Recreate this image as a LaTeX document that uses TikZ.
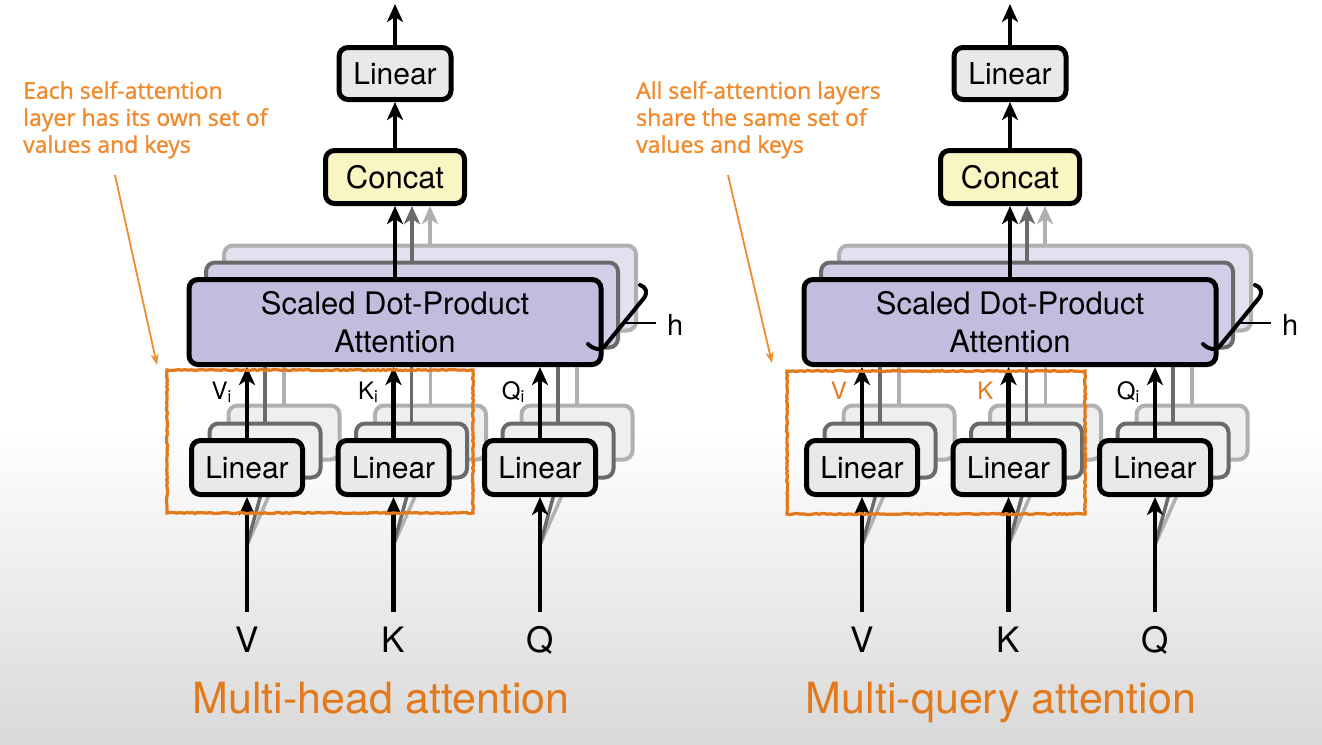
\documentclass[tikz,border=0pt]{standalone}
\usepackage{fontspec}
\setmainfont{TeX Gyre Heros}
\newfontfamily\annotfont{Open Sans}[FakeBold=1.2]
\usetikzlibrary{arrows.meta,decorations.pathmorphing}

\definecolor{lav}{HTML}{C4BCDF}
\definecolor{lavb}{HTML}{D3CDE7}
\definecolor{lavc}{HTML}{E3E0EF}
\definecolor{linf}{HTML}{E8EAEA}
\definecolor{linfb}{HTML}{EEF0F0}
\definecolor{conf}{HTML}{FAF6C4}
\definecolor{shb}{HTML}{6A6A6A}
\definecolor{shc}{HTML}{B0B0B0}
\definecolor{orng}{HTML}{E27A1C}
\definecolor{ornga}{HTML}{F08A2C}
\definecolor{bgbot}{HTML}{D9D9D9}

\tikzset{
  box/.style={draw=black, line width=5pt, rounded corners=9pt, inner sep=0pt, align=center},
  lin/.style={box, fill=linf, minimum width=111pt, minimum height=54pt, font=\fontsize{30}{36}\selectfont},
  linb/.style={lin, fill=linfb, draw=shb, line width=4pt},
  linc/.style={lin, fill=linfb, draw=shc, line width=4pt},
  topbox/.style={box, fill=linf, minimum width=112pt, minimum height=52pt, font=\fontsize{30}{36}\selectfont},
  concatbox/.style={box, fill=conf, minimum width=139pt, minimum height=53pt, font=\fontsize{31}{36}\selectfont},
  attn/.style={box, fill=lav, minimum width=412pt, minimum height=85pt, font=\fontsize{31}{38}\selectfont},
  attnb/.style={attn, fill=lavb, draw=shb, line width=4pt},
  attnc/.style={attn, fill=lavc, draw=shc, line width=4pt},
  arr/.style={line width=4.5pt, -{Stealth[length=18pt,width=16pt,inset=5pt]}},
  arrb/.style={arr, draw=shb, line width=4pt},
  arrc/.style={arr, draw=shc, line width=4pt},
  gl/.style={line width=3.5pt},
  lab/.style={font=\fontsize{35}{40}\selectfont, anchor=base, inner sep=0pt},
  sublab/.style={font=\fontsize{24}{28}\selectfont, anchor=base east, inner sep=0pt},
  hlab/.style={font=\fontsize{29}{30}\selectfont, anchor=base west, inner sep=0pt},
  annot/.style={font=\annotfont\fontsize{23}{27}\selectfont, text=ornga, align=left, anchor=north west, inner sep=0pt},
  oarr/.style={draw=ornga, line width=1.8pt, -{Stealth[length=11pt,width=8pt]}},
  obox/.style={draw=orng, line width=3.2pt, decorate, decoration={random steps,segment length=2.5pt,amplitude=0.6pt}},
  titlelab/.style={font=\fontsize{43}{48}\selectfont, text=orng, anchor=base, inner sep=0pt},
  hbrack/.style={line width=4pt, line cap=round},
}

% #1 node name, #2 centre x, #3 sub label, #4 input label, #5 attention node
\newcommand\mybranch[5]{%
  \coordinate (#1in) at (#2,612);
  \coordinate (#1d) at (#2,545);
  \node[linc] (#1three) at (#2+37,432.5) {};
  \node[linb] (#1two) at (#2+18,450.5) {};
  \draw[shc, gl] (#1d) -- (#1three.south);
  \draw[shb, gl] (#1d) -- (#1two.south);
  \draw[shc, gl] (#1three.north) -- (#1three.north |- #5.south);
  \draw[shb, gl] (#1two.north) -- (#1two.north |- #5.south);
  \node[lin] (#1) at (#2,467.5) {Linear};
  \draw[arr] (#1.north) -- (#1.north |- #5.south);
  \draw[arr] (#1in) -- (#1.south);
  \node[lab] (#1l) at (#2,652) {#4};
  \node[sublab] (#1s) at (#2-15,399) {#3};
}

% #1 prefix, #2 x shift, #3 V sub label, #4 K sub label
\newcommand\mypanel[4]{%
\begin{scope}[xshift=#2pt]
  \node[attnc] (#1athree) at (430,288) {};
  \node[attnb] (#1atwo) at (412,305) {};
  \node[attn] (#1a) at (395,322) {Scaled Dot-Product\\Attention};
  \node[concatbox] (#1c) at (395,177) {Concat};
  \node[topbox] (#1o) at (395,73.5) {Linear};
  \coordinate (#1out) at (395,4);
  \draw[arrc] (#1athree.north) -- (#1athree.north |- #1c.south);
  \draw[arrb] (#1atwo.north) -- (#1atwo.north |- #1c.south);
  \draw[arr] (#1a.north) -- (#1c.south);
  \draw[arr] (#1c.north) -- (#1o.south);
  \draw[arr] (#1o.north) -- (#1out);
  \mybranch{#1v}{247}{#3}{V}{#1a}
  \mybranch{#1k}{393.5}{#4}{K}{#1a}
  \mybranch{#1q}{540}{Q\textsubscript{i}}{Q}{#1a}
  \draw[hbrack] (588,344) .. controls (594,350) and (600,350) .. (604,347) -- (644,298) .. controls (648,292) and (646,287) .. (640,285);
  \draw[line width=2.8pt] (624,323) -- (656,323);
  \node[hlab] (#1h) at (667,335) {h};
\end{scope}}

\begin{document}
\begin{tikzpicture}[x=1pt,y=-1pt]
  \useasboundingbox (0,0) rectangle (1322,744);
  \fill[white] (0,0) rectangle (1322,744);
  \shade[top color=white, bottom color=bgbot] (0,430) rectangle (1322,744);

  \mypanel{L}{0}{V\textsubscript{i}}{K\textsubscript{i}}
  \mypanel{R}{615}{\textcolor{orng}{V}}{\textcolor{orng}{K}}

  % orange frames
  \draw[obox] (167,370) rectangle (473,513);
  \draw[obox] (787,371) rectangle (1085,514);

  % annotations
  \node[annot] (Lnote) at (23,81) {Each self-attention\\layer has its own set of\\values and keys};
  \node[annot] (Rnote) at (636,81) {All self-attention layers\\share the same set of\\values and keys};
  \coordinate (Lns) at (115,175);
  \coordinate (Lne) at (157,365);
  \coordinate (Rns) at (728,175);
  \coordinate (Rne) at (772,363);
  \draw[oarr] (Lns) -- (Lne);
  \draw[oarr] (Rns) -- (Rne);

  % titles
  \node[titlelab] (Ltitle) at (381,713) {Multi-head attention};
  \node[titlelab] (Rtitle) at (1001,713) {Multi-query attention};
\end{tikzpicture}
\end{document}
